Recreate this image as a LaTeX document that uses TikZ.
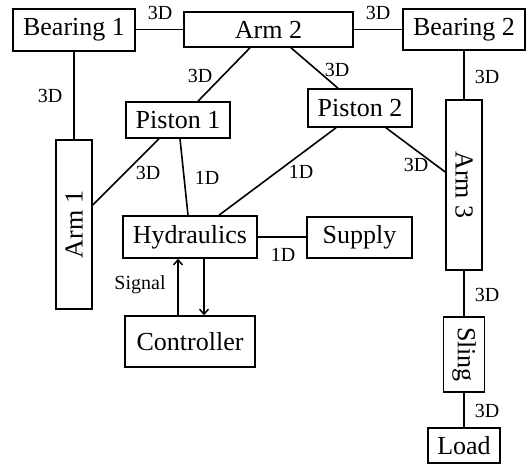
\documentclass[tikz,border=0pt]{standalone}
\usepackage{fontspec}
\setmainfont{Liberation Serif}
\usetikzlibrary{arrows.meta}
\begin{document}
\begin{tikzpicture}[x=1pt,y=-1pt,
  box/.style={draw,line width=1.6pt,inner sep=0pt,font=\fontsize{26}{30}\selectfont},
  lbl/.style={inner sep=0pt,font=\fontsize{20}{24}\selectfont},
  link/.style={line width=1.6pt},
  sig/.style={line width=1.6pt,-{Straight Barb[length=5pt,width=9pt,line width=1.5pt]}}]
\useasboundingbox (0,0) rectangle (528,465);
% boxes
\node[box,minimum width=122pt,minimum height=42pt] (b1) at (74,30) {Bearing 1};
\node[box,minimum width=169pt,minimum height=35pt] (a2) at (268.5,29.5) {Arm 2};
\node[box,minimum width=122pt,minimum height=41pt] (b2) at (464,29.5) {Bearing 2};
\node[box,minimum width=104pt,minimum height=36pt] (p1) at (178,120) {Piston 1};
\node[box,minimum width=104pt,minimum height=38pt] (p2) at (360,108) {Piston 2};
\node[box,minimum width=36pt,minimum height=169pt] (a1) at (74,224.5) {\rotatebox{90}{Arm 1}};
\node[box,minimum width=36pt,minimum height=170pt] (a3) at (464,185) {\rotatebox{-90}{Arm 3}};
\node[box,minimum width=134pt,minimum height=42pt] (hy) at (190,237) {Hydraulics};
\node[box,minimum width=105pt,minimum height=41pt] (su) at (359.5,237.5) {Supply};
\node[box,minimum width=130pt,minimum height=51pt] (co) at (190,341.5) {Controller};
\node[box,minimum width=41pt,minimum height=75pt] (sl) at (464,354.5) {\rotatebox{-90}{Sling}};
\node[box,minimum width=72pt,minimum height=35pt] (lo) at (464,445.5) {Load};
% connectors
\draw[link] (b1.east |- a2.west) -- (a2.west);
\draw[link] (a2.east) -- (a2.east -| b2.west);
\draw[link] (b1) -- (a1);
\draw[link] ([xshift=-18.5pt]a2.south) -- ([xshift=20pt]p1.north);
\draw[link] ([xshift=22.5pt]a2.south) -- ([xshift=-22pt]p2.north);
\draw[link] ([xshift=-19pt]p1.south) -- ([yshift=19.5pt]a1.east);
\draw[link] ([xshift=2pt]p1.south) -- ([xshift=-2pt]hy.north);
\draw[link] ([xshift=-24pt]p2.south) -- ([xshift=29pt]hy.north);
\draw[link] ([xshift=26pt]p2.south) -- ([yshift=13pt]a3.west);
\draw[link] (b2) -- (a3);
\draw[link] (hy.east) -- (hy.east -| su.west);
\draw[link] (a3) -- (sl);
\draw[link] (sl) -- (lo);
\draw[sig] ([xshift=-12pt]co.north) -- ([xshift=-12pt]hy.south);
\draw[sig] ([xshift=14pt]hy.south) -- ([xshift=14pt]co.north);
% labels
\node[lbl] (l1) at (160,13) {3D};
\node[lbl] (l2) at (378,13) {3D};
\node[lbl] (l3) at (50,96) {3D};
\node[lbl] (l4) at (200,76) {3D};
\node[lbl] (l5) at (337,70) {3D};
\node[lbl] (l6) at (148,173) {3D};
\node[lbl] (l7) at (207,178) {1D};
\node[lbl] (l8) at (301,172) {1D};
\node[lbl] (l9) at (416,165) {3D};
\node[lbl] (l10) at (487,77) {3D};
\node[lbl] (l11) at (283,255) {1D};
\node[lbl] (l12) at (140,285) {Signal};
\node[lbl] (l13) at (487,295) {3D};
\node[lbl] (l14) at (487,411) {3D};
\end{tikzpicture}
\end{document}
